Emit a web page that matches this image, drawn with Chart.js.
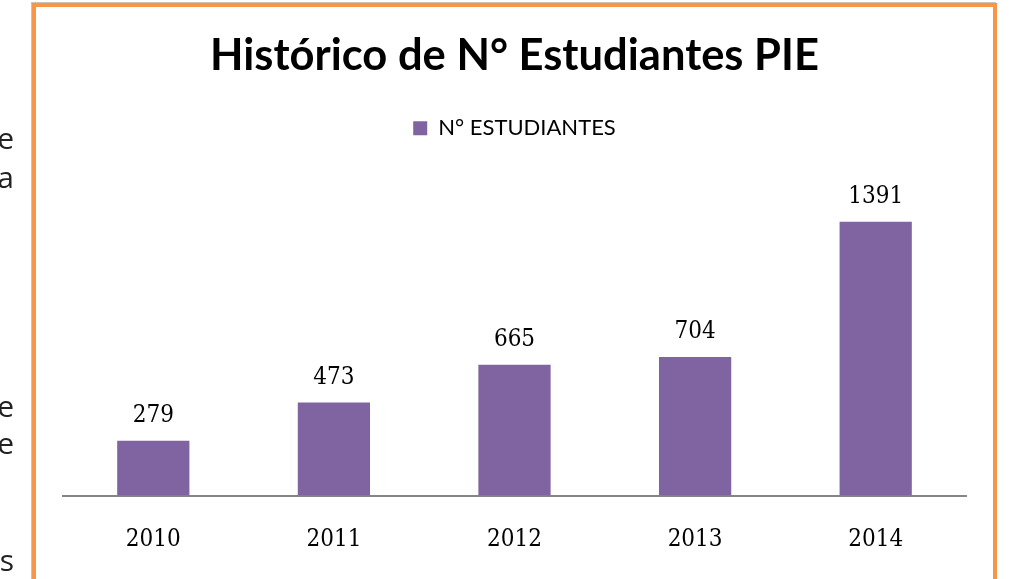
<!DOCTYPE html>
<html>
<head>
<meta charset="utf-8">
<script src="https://cdn.jsdelivr.net/npm/chart.js@4.4.1/dist/chart.umd.min.js"></script>
<style>
  body { margin: 0; background: #fff; overflow: hidden; }
  #wrap { position: relative; width: 1012px; height: 579px; overflow: hidden; }
  #chart { position: absolute; left: 0; top: 0; }
  #frame {
    position: absolute; left: 32px; top: 3px; width: 957px; height: 600px;
    border: 4px solid #F79646; box-shadow: -1px -1px 0 #cfc3b8;
    pointer-events: none;
  }
  .side {
    position: absolute; left: -40px; width: 54px; text-align: right;
    font-family: "Open Sans", sans-serif; font-size: 30px; color: #222; line-height: 1;
  }
</style>
</head>
<body>
<div id="wrap">
  <canvas id="chart" width="1012" height="610"></canvas>
  <div id="frame"></div>
  <div class="side" style="top:123px">e</div>
  <div class="side" style="top:162px">a</div>
  <div class="side" style="top:391px">e</div>
  <div class="side" style="top:428px">e</div>
  <div class="side" style="top:545px">s</div>
</div>
<script>
const years = ["2010", "2011", "2012", "2013", "2014"];
const students = [279, 473, 665, 704, 1391];
const seriesName = "N° ESTUDIANTES";
const chartTitle = "Histórico de N° Estudiantes PIE";

const numFont = '"DejaVu Serif Condensed", "DejaVu Serif", serif';

// draws the numbers above each bar
const valueLabels = {
  id: "valueLabels",
  afterDatasetsDraw(chart) {
    const ctx = chart.ctx;
    const meta = chart.getDatasetMeta(0);
    ctx.save();
    ctx.font = "24px " + numFont;
    ctx.fillStyle = "#000";
    ctx.textAlign = "center";
    ctx.textBaseline = "alphabetic";
    meta.data.forEach((bar, i) => {
      ctx.fillText(String(students[i]), bar.x, bar.y - 19);
    });
    ctx.restore();
  }
};

new Chart(document.getElementById("chart"), {
  type: "bar",
  data: {
    labels: years,
    datasets: [{
      label: seriesName,
      data: students,
      backgroundColor: "#8064A2",
      borderWidth: 0,
      barPercentage: 0.4,
      categoryPercentage: 1
    }]
  },
  options: {
    responsive: false,
    animation: false,
    layout: { padding: { left: 63, right: 46, top: 0, bottom: 26 } },
    plugins: {
      title: {
        display: true,
        text: chartTitle,
        color: "#000",
        font: { family: "Lato", size: 43.5, weight: "bold" },
        padding: { top: 30, bottom: 25 }
      },
      legend: {
        display: true,
        labels: {
          boxWidth: 14,
          boxHeight: 14,
          color: "#000",
          font: { family: "Lato", size: 22 }
        }
      },
      tooltip: { enabled: false }
    },
    scales: {
      x: {
        grid: { display: false, drawTicks: false },
        border: { display: true, color: "#868686", width: 2 },
        ticks: {
          color: "#000",
          font: { family: numFont, size: 24, lineHeight: 1.35 },
          padding: 28
        }
      },
      y: {
        display: false,
        min: 0,
        max: 1760
      }
    }
  },
  plugins: [valueLabels]
});
</script>
</body>
</html>
